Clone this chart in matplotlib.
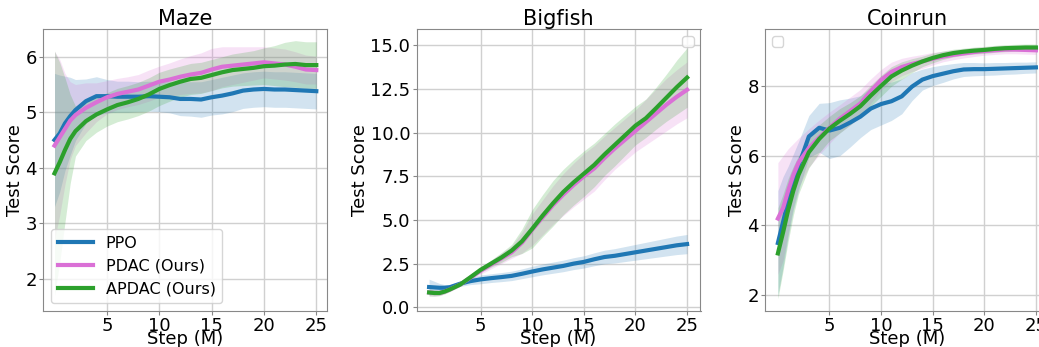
import numpy as np
import matplotlib
matplotlib.use('Agg')
import matplotlib.pyplot as plt

# training steps (M)
steps = [0, 0.5, 1, 1.5, 2, 3, 4, 5, 6, 7, 8, 9, 10, 11, 12, 13, 14, 15,
         16, 17, 18, 19, 20, 21, 22, 23, 24, 25]

# Maze
maze_ppo = [4.50, 4.62, 4.80, 4.93, 5.04, 5.20, 5.29, 5.29, 5.28, 5.28, 5.28, 5.29, 5.28, 5.27,
            5.24, 5.24, 5.23, 5.27, 5.30, 5.34, 5.39, 5.41, 5.42, 5.41, 5.41, 5.40, 5.39, 5.38]
maze_ppo_std = [1.20, 1.05, 0.85, 0.70, 0.55, 0.40, 0.35, 0.30, 0.28, 0.28, 0.27, 0.27, 0.27, 0.28,
                0.30, 0.31, 0.32, 0.32, 0.33, 0.33, 0.32, 0.32, 0.32, 0.32, 0.32, 0.32, 0.32, 0.32]
maze_pdac = [4.40, 4.55, 4.70, 4.85, 4.95, 5.08, 5.18, 5.27, 5.33, 5.37, 5.41, 5.48, 5.55, 5.59,
             5.64, 5.68, 5.71, 5.77, 5.82, 5.84, 5.86, 5.88, 5.90, 5.88, 5.86, 5.82, 5.77, 5.76]
maze_pdac_std = [1.70, 1.40, 1.00, 0.70, 0.55, 0.45, 0.35, 0.30, 0.28, 0.27, 0.27, 0.28, 0.28, 0.30,
                 0.32, 0.34, 0.36, 0.38, 0.36, 0.34, 0.32, 0.30, 0.28, 0.28, 0.28, 0.27, 0.26, 0.25]
maze_apdac = [3.90, 4.10, 4.32, 4.52, 4.66, 4.84, 4.96, 5.05, 5.13, 5.18, 5.24, 5.32, 5.42, 5.49,
              5.55, 5.60, 5.62, 5.67, 5.72, 5.76, 5.78, 5.80, 5.83, 5.84, 5.86, 5.87, 5.85, 5.85]
maze_apdac_std = [2.20, 1.80, 1.30, 0.80, 0.45, 0.35, 0.32, 0.30, 0.30, 0.30, 0.30, 0.30, 0.30, 0.29,
                  0.28, 0.28, 0.28, 0.28, 0.28, 0.29, 0.30, 0.31, 0.33, 0.36, 0.40, 0.42, 0.42, 0.42]

# Bigfish
bigfish_ppo = [1.16, 1.14, 1.12, 1.12, 1.15, 1.35, 1.50, 1.60, 1.67, 1.73, 1.80, 1.92, 2.05, 2.17,
               2.27, 2.37, 2.50, 2.60, 2.75, 2.88, 2.95, 3.05, 3.15, 3.25, 3.35, 3.45, 3.55, 3.62]
bigfish_ppo_std = [0.45, 0.35, 0.25, 0.18, 0.15, 0.15, 0.20, 0.25, 0.25, 0.26, 0.27, 0.28, 0.30, 0.31,
                   0.32, 0.33, 0.34, 0.35, 0.37, 0.39, 0.41, 0.43, 0.45, 0.47, 0.49, 0.51, 0.53, 0.55]
bigfish_pdac = [0.85, 0.82, 0.82, 0.90, 1.02, 1.30, 1.70, 2.10, 2.45, 2.80, 3.15, 3.70, 4.45, 5.15,
                5.85, 6.45, 7.00, 7.50, 7.95, 8.55, 9.10, 9.60, 10.10, 10.60, 11.10, 11.60, 12.05, 12.45]
bigfish_pdac_std = [0.20, 0.18, 0.15, 0.13, 0.12, 0.10, 0.15, 0.20, 0.25, 0.30, 0.35, 0.60, 0.90, 1.00,
                    1.10, 1.20, 1.25, 1.30, 1.30, 1.25, 1.20, 1.20, 1.20, 1.30, 1.40, 1.50, 1.55, 1.60]
bigfish_apdac = [0.85, 0.82, 0.82, 0.90, 1.02, 1.30, 1.72, 2.15, 2.50, 2.85, 3.25, 3.78, 4.50, 5.25,
                 5.95, 6.60, 7.15, 7.65, 8.15, 8.75, 9.30, 9.85, 10.40, 10.82, 11.40, 12.00, 12.60, 13.15]
bigfish_apdac_std = [0.20, 0.18, 0.15, 0.13, 0.12, 0.10, 0.12, 0.15, 0.20, 0.28, 0.35, 0.70, 1.10, 1.20,
                     1.30, 1.30, 1.30, 1.30, 1.25, 1.20, 1.20, 1.15, 1.10, 1.10, 1.20, 1.35, 1.55, 1.70]

# Coinrun
coinrun_ppo = [3.50, 4.10, 4.70, 5.25, 5.70, 6.55, 6.80, 6.72, 6.80, 6.95, 7.12, 7.35, 7.48, 7.56,
               7.70, 7.98, 8.18, 8.28, 8.35, 8.42, 8.47, 8.48, 8.48, 8.49, 8.50, 8.51, 8.52, 8.53]
coinrun_ppo_std = [1.50, 1.30, 1.00, 0.80, 0.70, 0.60, 0.70, 0.80, 0.80, 0.70, 0.60, 0.60, 0.60, 0.55,
                   0.50, 0.40, 0.30, 0.27, 0.25, 0.22, 0.20, 0.19, 0.18, 0.18, 0.17, 0.17, 0.16, 0.16]
coinrun_pdac = [4.20, 4.50, 5.00, 5.45, 5.80, 6.22, 6.52, 6.80, 7.06, 7.28, 7.50, 7.85, 8.17, 8.40,
                8.54, 8.63, 8.70, 8.78, 8.84, 8.89, 8.93, 8.97, 9.00, 9.02, 9.04, 9.04, 9.03, 9.02]
coinrun_pdac_std = [1.60, 1.50, 1.20, 0.90, 0.70, 0.55, 0.50, 0.45, 0.40, 0.40, 0.40, 0.35, 0.30, 0.28,
                    0.25, 0.22, 0.20, 0.18, 0.15, 0.14, 0.13, 0.13, 0.12, 0.12, 0.12, 0.12, 0.12, 0.12]
coinrun_apdac = [3.20, 3.80, 4.45, 5.00, 5.45, 6.10, 6.48, 6.78, 7.00, 7.20, 7.42, 7.72, 8.00, 8.27,
                 8.44, 8.58, 8.70, 8.80, 8.88, 8.94, 8.98, 9.01, 9.03, 9.06, 9.08, 9.09, 9.10, 9.10]
coinrun_apdac_std = [1.30, 1.10, 0.90, 0.70, 0.55, 0.45, 0.40, 0.35, 0.35, 0.32, 0.30, 0.30, 0.30, 0.28,
                     0.25, 0.20, 0.15, 0.14, 0.12, 0.11, 0.10, 0.10, 0.10, 0.10, 0.10, 0.10, 0.10, 0.10]

methods = ['PPO', 'PDAC (Ours)', 'APDAC (Ours)']
colors = ['#1f77b4', 'orchid', '#2ca02c']

panels = [
    ('Maze', [(maze_ppo, maze_ppo_std), (maze_pdac, maze_pdac_std), (maze_apdac, maze_apdac_std)],
     (-1.07, 26.05), (1.42, 6.5), [2, 3, 4, 5, 6]),
    ('Bigfish', [(bigfish_ppo, bigfish_ppo_std), (bigfish_pdac, bigfish_pdac_std),
                 (bigfish_apdac, bigfish_apdac_std)],
     (-1.22, 26.3), (-0.21, 15.93), [0, 2.5, 5, 7.5, 10, 12.5, 15]),
    ('Coinrun', [(coinrun_ppo, coinrun_ppo_std), (coinrun_pdac, coinrun_pdac_std),
                 (coinrun_apdac, coinrun_apdac_std)],
     (-1.22, 26.3), (1.55, 9.63), [2, 4, 6, 8]),
]

W, H = 1039, 347
fig = plt.figure(figsize=(W / 100, H / 100), dpi=100)
lefts = [43.3, 416.5, 765.3]
x = np.array(steps)

for i, (title, series, xl, yl, yt) in enumerate(panels):
    ax = fig.add_axes([lefts[i] / W, 36 / H, 284 / W, 282 / H])
    for (m, s), c, lab in zip(series, colors, methods):
        m = np.array(m)
        s = np.array(s)
        ax.fill_between(x, m - s, m + s, color=c, alpha=0.2, lw=0)
        ax.plot(x, m, color=c, lw=3, label=lab)
    ax.set_xlim(*xl)
    ax.set_ylim(*yl)
    ax.set_xticks([5, 10, 15, 20, 25])
    ax.set_yticks(yt)
    ax.grid(True, color='#d0d0d0', lw=1)
    ax.set_axisbelow(True)
    for sp in ax.spines.values():
        sp.set_color('#888888')
    ax.tick_params(labelsize=13, length=3, pad=1.5, color='#888888')
    ax.set_title(title, fontsize=15, pad=3)
    ax.set_xlabel('Step (M)', fontsize=13, labelpad=-4)
    ax.set_ylabel('Test Score', fontsize=13, labelpad=1)
    if i == 0:
        ax.legend(loc='lower left', fontsize=11.5, handlelength=2.2)
    elif i == 1:
        ax.legend(handles=[], loc='upper right')
    else:
        ax.legend(handles=[], loc='upper left')

fig.savefig('out.png', dpi=100)
